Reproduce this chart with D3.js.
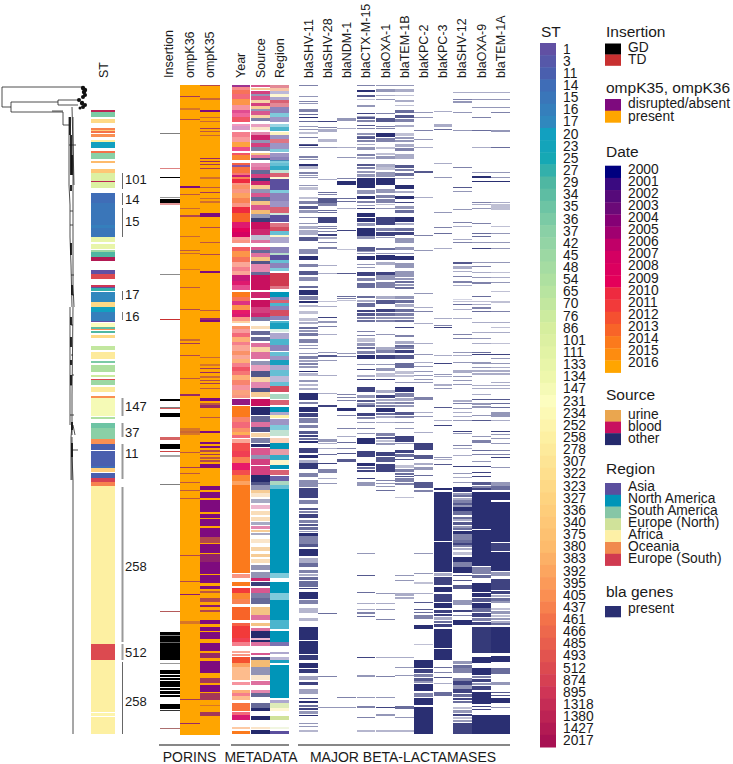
<!DOCTYPE html>
<html><head><meta charset="utf-8"><style>html,body{margin:0;background:#fff}svg{display:block}text{font-family:"Liberation Sans",Arial,sans-serif;fill:#1a1a1a}.heat{filter:blur(.45px)}</style>
<script src="https://cdnjs.cloudflare.com/ajax/libs/d3/7.8.5/d3.min.js"></script></head><body><svg id="c" width="733" height="764"></svg>
<script>
const stCodes=[1,3,11,14,15,16,17,20,23,25,27,29,34,35,36,37,42,45,48,54,65,70,76,86,101,111,133,134,147,231,234,252,258,278,307,322,323,327,336,340,375,380,383,392,395,405,437,461,466,485,493,512,874,895,1318,1380,1427,2017];
const years=d3.range(2000,2017);
const yearColours=["#00007f","#3a0a80","#560a7a","#6b0a78","#850075","#a00070","#c00068","#d40062","#dc005f","#e4005a","#ee2a40","#f23a3a","#f55030","#f86428","#fb7a1c","#fd8c10","#ffa500"];
const sources=["urine","blood","other"];
const sourceColours=["#f0aa50","#c8105f","#252a6c"];
const regions=["Asia","North America","South America","Europe (North)","Africa","Oceania","Europe (South)"];
const regionColours=["#5b4f9e","#0095b8","#86c6a6","#d0e29a","#fdf0a6","#f08a4e","#d03a50"];
const genes=["blaSHV-11","blaSHV-28","blaNDM-1","blaCTX-M-15","blaOXA-1","blaTEM-1B","blaKPC-2","blaKPC-3","blaSHV-12","blaOXA-9","blaTEM-1A"];

const stBands=[[25,27,1380],[27,32,36],[34,38,323],[43,45,437],[45,46,336],[46,48,461],[49,52,405],[55,57,258],[57,63,20],[66,68,461],[68,74,37],[76,78,380],[84,88,340],[88,96,101],[96,97,1380],[97,103,101],[108,118,14],[118,140,15],[140,143,16],[143,152,15],[152,157,133],[159,164,133],[165,167,45],[167,172,29],[172,176,1427],[185,189,1],[189,194,512],[200,202,895],[202,203,1],[203,206,27],[207,217,17],[217,222,323],[222,227,20],[227,236,16],[236,237,1],[238,242,231],[242,244,34],[244,245,405],[246,248,29],[250,253,323],[261,265,70],[267,274,278],[276,278,36],[280,287,54],[290,292,76],[294,295,512],[295,300,45],[302,307,278],[311,313,405],[313,331,147],[332,334,54],[338,343,35],[343,354,37],[354,359,405],[359,365,11],[366,381,11],[381,383,14],[383,387,336],[388,393,11],[393,397,874],[397,401,437],[401,559,258],[559,575,512],[575,627,258],[628,631,252],[632,649,258]];
const stBracketLabels=["101","14","15","17","16","147","37","11","258","512","258"];
const stBracketStarts=[88,108,123,206,227,313,338,359,402,559,577];
const stBracketEnds=[104,120,152,215,235,331,352,394,557,575,649];
const stBracketLabelRows=[99,119,141,214,236,326,352,373,486,572,621];
const stBracketShade=[0.8,0.8,0.8,0.8,0.7,1,1,1,1,0.5,0.9];

const insertionGD=[[48,49,.5],[92,93,1],[112,113,.4],[114,118,1],[189,190,.45],[314,316,1],[322,323,.5],[328,332,1],[359,364,1],[370,372,.35],[399,400,.5],[526,527,.4],[547,550,1],[550,551,.5],[551,557,1],[557,558,.6],[558,575,1],[578,579,.4],[585,589,1],[590,592,1],[593,595,1],[596,602,1],[603,605,1],[606,609,1],[610,612,1],[619,624,1],[625,626,.8],[643,644,.4]];
const insertionTD=[[83,84,.6],[118,120,.5],[234,235,1],[323,324,.8],[352,355,.75],[366,367,.9],[526,527,.6],[643,644,.4]];
const ompK36=[[11,12,.7],[23,25,.3],[34,35,.6],[101,103,1],[109,110,.5],[123,124,.4],[130,132,.6],[151,152,.4],[165,166,.5],[168,169,.4],[184,185,.3],[202,203,.5],[224,225,.6],[254,256,.4],[258,259,.7],[270,271,.6],[293,294,.5],[309,311,.8],[343,346,.3],[346,348,.4],[348,350,.3],[367,368,.5],[382,383,.7],[388,389,.5],[397,398,.5],[405,406,.5],[413,414,.5],[470,471,.6],[496,497,.6],[509,510,.9],[536,539,.3],[614,615,.7],[638,639,.8]];
const ompK35=[[0,1,.6],[13,15,.4],[25,27,1],[32,33,.4],[36,37,.4],[43,44,.7],[46,47,.5],[50,51,.4],[73,74,.8],[76,77,.8],[79,80,.7],[83,84,.7],[92,94,.35],[102,103,.5],[107,108,.7],[113,114,.4],[116,118,.35],[128,132,1],[142,143,.6],[157,158,.5],[169,170,.6],[186,188,1],[225,226,.5],[233,235,.8],[235,237,1],[272,273,.4],[279,281,.3],[283,284,.7],[287,288,.8],[291,293,.4],[295,296,.6],[298,299,.7],[303,304,.5],[313,316,1],[318,320,.5],[320,323,.8],[332,333,.5],[346,348,1],[357,359,1],[361,363,1],[365,367,.6],[369,370,.7],[372,374,.5],[375,377,.6],[379,383,1],[401,405,1],[407,413,1],[415,427,1],[429,433,1],[434,441,1],[443,452,1],[452,458,.6],[459,468,1],[469,477,.85],[477,489,1],[490,498,1],[501,504,1],[506,508,.5],[513,517,.6],[520,522,.9],[525,527,.6],[535,539,1],[542,546,1],[547,554,1],[558,566,1],[568,573,.8],[576,588,1],[593,598,.7],[600,607,1],[608,615,.7],[620,621,.3],[627,631,.7]];

const yearSpans=[[0,2,2004,.8],[2,5,2011,.6],[5,9,2012,.8],[9,14,2010,.7],[14,20,2014,.8],[20,25,2010,.5],[25,28,2007,.7],[28,32,2009,.6],[32,37,2010,.8],[39,41,2008,.4],[41,45,2005,.4],[47,52,2010,.6],[52,57,2011,.5],[57,62,2015,.8],[62,66,2009,.7],[68,70,2010,.8],[70,75,2014,.9],[78,80,2012,.9],[80,82,2002,.7],[82,88,2013,.9],[88,90,2011,.7],[90,92,2006,.9],[92,94,2013,.8],[94,98,2010,1],[98,100,2012,.6],[100,104,2013,.7],[104,108,2012,.6],[108,113,2014,.7],[113,118,2013,.8],[118,122,2012,.6],[122,128,2010,1],[128,137,2013,1],[137,143,2008,.9],[143,147,2009,1],[147,152,2007,1],[152,155,2011,.5],[155,158,2012,.6],[162,166,2011,.8],[166,172,2014,.8],[172,177,2012,.8],[177,182,2012,.5],[182,186,2010,.6],[186,190,2012,.5],[190,196,2006,.9],[196,200,2008,.9],[200,205,2008,.7],[207,212,2014,1],[212,216,2012,.8],[216,220,2007,.8],[220,225,2014,.8],[225,229,2009,.9],[229,232,2007,.9],[232,236,2012,.6],[236,238,2015,.4],[241,244,2013,.7],[244,248,2011,.5],[248,252,2010,.7],[252,257,2014,.6],[257,260,2010,.6],[260,266,2012,.5],[266,270,2013,.7],[270,274,2012,.5],[274,278,2014,.6],[278,282,2010,.6],[282,286,2010,.8],[286,290,2011,.7],[290,295,2014,.6],[295,300,2012,.7],[300,305,2010,.5],[305,310,2013,.6],[310,313,2012,.6],[314,320,2004,.9],[321,332,2014,1],[332,337,2012,.7],[337,343,2010,.7],[343,347,2013,.7],[347,350,2015,.7],[350,353,2010,.7],[354,358,2012,.5],[358,366,2011,.9],[366,372,2010,.9],[372,378,2013,.8],[378,385,2009,.9],[385,390,2011,.9],[390,396,2014,.9],[396,400,2014,.7],[400,488,2014,1],[489,493,2012,.6],[497,501,2014,1],[503,508,2011,1],[508,514,2014,.9],[514,519,2013,.8],[522,535,2013,1],[538,541,2012,.9],[541,553,2011,1],[553,557,2010,.9],[557,561,2010,.6],[566,568,2012,.5],[569,571,2012,.6],[572,578,2012,1],[578,582,2014,.7],[582,595,2014,.5],[597,600,2010,.5],[605,608,2014,.6],[608,611,2010,.6],[611,615,2014,.5],[618,626,2013,.9],[627,630,2010,.7],[630,635,2007,.9],[642,644,2014,.4],[646,649,2014,1]];
const sourceSpans=[[0,2,1,.7],[3,5,0,.6],[6,9,1,.8],[9,11,2,.5],[11,15,1,.7],[15,18,0,.5],[18,21,1,.8],[21,24,0,.6],[24,26,2,.5],[26,30,1,.7],[30,33,0,.5],[33,36,2,.6],[39,42,1,.4],[42,45,0,.3],[47,50,1,.5],[50,55,1,.9],[55,58,2,.5],[58,62,1,.8],[62,66,2,.6],[68,70,0,.7],[70,73,1,.6],[73,75,2,.8],[78,82,1,.5],[82,85,1,.6],[85,89,2,.7],[89,93,1,.8],[93,96,2,.9],[96,100,1,.9],[100,104,0,.6],[104,108,2,.5],[108,112,1,.7],[112,116,2,.7],[116,120,0,.7],[120,125,1,.7],[125,129,0,.8],[129,133,2,.5],[133,137,2,.9],[137,144,1,1],[144,150,1,.9],[150,155,2,.3],[155,158,1,.6],[162,165,1,.7],[165,168,2,.7],[168,172,1,.6],[172,176,0,.7],[176,179,2,.8],[179,183,1,.5],[183,187,1,.5],[187,190,2,.7],[190,205,1,1],[207,213,1,.9],[215,222,1,1],[222,228,1,.8],[228,232,1,.9],[232,236,2,.6],[241,244,0,.4],[246,250,2,.7],[252,256,2,.7],[258,262,1,.6],[262,267,0,.5],[267,274,1,.6],[276,280,2,.5],[280,286,1,.4],[286,292,2,.8],[292,297,0,.5],[297,303,1,.5],[303,307,2,.8],[307,312,0,.6],[314,321,1,1],[322,330,2,1],[331,337,2,.7],[337,342,1,.6],[342,347,2,.8],[348,352,0,.5],[353,358,2,.6],[359,362,2,1],[363,370,1,.7],[370,374,2,.5],[374,380,1,.8],[381,390,1,.8],[390,397,2,1],[397,400,2,.8],[400,405,2,.5],[405,408,0,.6],[408,412,0,.3],[414,418,2,.4],[420,424,1,.3],[426,430,0,.4],[432,436,0,.4],[437,440,2,.4],[441,444,1,.5],[445,447,0,.6],[448,450,2,.4],[454,458,0,.3],[462,466,0,.5],[469,472,0,.6],[474,478,0,.4],[480,485,2,.5],[487,493,2,.5],[493,496,1,.9],[497,501,2,.9],[503,508,1,.7],[508,513,2,.6],[513,519,2,.7],[522,530,0,.7],[530,535,1,.6],[538,541,0,.7],[543,546,1,.6],[546,553,2,1],[553,555,1,.3],[555,557,2,1],[557,561,1,.6],[568,570,1,.7],[572,575,2,.8],[575,582,0,.8],[582,590,2,.5],[590,595,0,.3],[596,600,1,.6],[605,608,1,.5],[608,612,2,.7],[618,623,2,.7],[623,626,2,1],[631,635,2,1],[642,644,0,.3],[645,649,2,1]];
const regionSpans=[[0,3,6,.6],[3,6,5,.5],[6,9,0,.4],[9,12,4,.5],[12,15,0,.5],[15,18,6,.8],[18,22,6,.6],[22,28,0,.7],[28,32,1,.5],[32,37,0,.6],[39,42,1,.4],[42,46,1,.7],[47,50,4,.7],[50,54,0,.6],[54,58,6,.7],[58,64,0,.6],[64,67,1,.5],[68,72,0,.6],[72,76,0,.7],[75,78,1,.5],[78,81,1,.6],[81,85,1,.8],[85,88,2,.5],[88,92,6,.8],[92,94,4,.5],[94,105,0,1],[105,108,1,.5],[108,116,0,.7],[116,122,0,.6],[122,128,6,.8],[128,130,2,.4],[130,137,0,1],[138,142,6,.7],[142,146,6,.9],[146,150,1,.6],[150,152,4,.6],[152,158,0,.5],[162,168,0,.7],[168,170,2,.6],[170,175,0,1],[175,178,1,.6],[178,183,0,.7],[183,186,1,.5],[188,201,6,1],[201,204,6,.7],[207,212,1,1],[212,215,0,.7],[215,218,6,.8],[218,221,1,.7],[221,225,0,.7],[225,231,6,.9],[231,235,0,.7],[236,238,1,.7],[238,244,1,.9],[244,247,2,.3],[248,254,0,.5],[254,260,1,.7],[260,266,0,.7],[267,271,1,.6],[271,275,0,.6],[275,280,1,.9],[280,285,0,.5],[285,291,1,.6],[291,297,0,.4],[297,301,1,.6],[301,307,6,.9],[309,314,2,.7],[315,320,6,.8],[322,327,1,1],[327,330,0,.5],[330,333,4,1],[334,340,0,.6],[340,345,1,.5],[345,351,2,.5],[353,358,5,.4],[358,364,1,1],[364,370,6,.5],[370,375,1,.8],[375,380,4,.6],[380,384,1,1],[385,390,6,.8],[391,396,0,.9],[396,400,2,.7],[400,404,1,.6],[404,488,1,1],[488,493,1,.5],[497,508,1,1],[508,515,1,.5],[515,535,1,1],[535,544,1,.7],[546,557,1,1],[557,561,0,.8],[567,569,0,.5],[572,575,0,.4],[575,578,1,.9],[580,613,1,1],[615,618,0,.5],[618,623,3,.7],[623,626,4,.5],[631,635,3,1],[642,644,3,.3],[646,649,0,1]];

const blaSHV11=[[0,1,.6],[11,12,.5],[16,17,.6],[18,19,.5],[24,27,.6],[29,30,.7],[32,33,1],[36,37,.7],[41,42,.5],[44,45,.5],[47,49,.3],[52,53,.6],[59,60,.8],[60,61,1],[62,63,.5],[71,73,.6],[74,75,.5],[79,81,1],[81,84,.35],[87,89,.6],[90,91,.5],[92,93,.5],[100,101,.5],[102,105,.3],[112,114,.3],[116,119,.6],[121,124,.8],[125,128,.5],[132,133,.6],[138,139,.5],[141,144,.4],[145,150,.4],[152,156,.8],[164,169,.55],[171,175,1],[179,182,.6],[186,190,.8],[192,196,.55],[201,203,.7],[205,210,1],[211,215,.6],[216,218,1],[220,222,.35],[226,229,.3],[233,236,.3],[237,239,.4],[242,244,.7],[245,247,.5],[248,251,.65],[254,258,.6],[260,261,.5],[263,264,.5],[268,269,.5],[271,274,.6],[275,277,.45],[278,280,.6],[281,283,.5],[286,287,1],[288,291,.35],[295,297,.5],[299,301,.35],[303,305,.4],[308,315,1],[317,319,.6],[322,327,1],[328,332,.9],[333,338,.6],[340,343,.6],[346,349,.8],[350,352,.9],[353,355,.7],[356,358,1],[363,368,.9],[370,373,1],[375,378,.4],[378,384,.95],[388,392,.6],[395,402,.55],[403,413,.9],[415,419,.6],[423,425,.8],[426,428,.6],[429,433,.9],[435,438,.6],[439,441,.8],[442,445,.7],[446,447,.5],[448,451,1],[451,455,.6],[455,459,.6],[459,462,.8],[464,471,1],[473,478,.4],[478,482,.7],[485,488,.6],[489,491,.4],[492,495,.7],[496,502,.7],[503,504,.9],[507,514,1],[515,519,.6],[523,528,.35],[533,536,.35],[542,555,1],[556,569,1],[570,575,.95],[578,583,1],[584,588,.95],[591,595,.45],[597,600,.9],[604,609,.45],[613,614,.8],[616,618,1],[620,622,.7],[623,625,.9],[626,629,.5],[630,631,1],[638,639,.5],[641,642,.5],[645,647,.35]];
const blaSHV28=[[36,37,.9],[42,43,.6],[44,47,.4],[54,57,.35],[62,63,.5],[94,95,.4],[107,108,.7],[109,110,.6],[113,118,.8],[118,121,.6],[125,126,.7],[127,128,.7],[132,138,.9],[141,142,.6],[143,144,.6],[146,147,.6],[149,151,.9],[152,154,.4],[157,158,.6],[162,164,.6],[180,181,.4],[188,189,.4],[216,217,.3],[221,222,.4],[232,233,.9],[236,238,.5],[241,242,.6],[249,250,.4],[267,268,.5],[270,272,.8],[275,276,.5],[290,291,.4],[308,309,.4],[320,322,.9],[354,357,.5],[358,359,.4],[363,364,.4],[369,370,.7],[378,379,.9],[384,388,.6],[393,394,.4],[398,399,.5],[528,529,.7],[591,592,.6],[622,623,.5]];
const blaNDM1=[[33,36,.5],[43,44,.4],[62,63,.4],[72,73,.5],[93,94,.6],[96,100,1],[113,114,.7],[116,117,.7],[123,124,.4],[145,146,.9],[164,165,.3],[188,189,.8],[211,212,.7],[213,214,.6],[215,216,.3],[268,269,.5],[271,272,.6],[309,310,.6],[312,313,.6],[315,316,.6],[323,326,1],[330,331,.6],[343,344,.6],[351,352,.4],[357,358,.7],[363,364,.6],[368,369,.8],[374,377,.8],[612,613,.6],[622,623,.5]];
const blaCTXM15=[[0,1,.6],[5,7,1],[10,12,.8],[14,15,.3],[20,22,.5],[28,29,.9],[31,32,.4],[32,34,.8],[35,37,.6],[40,41,.8],[43,44,.6],[48,50,.5],[51,52,.7],[52,54,.8],[55,57,.6],[59,60,.4],[62,65,.5],[69,71,.6],[72,74,.4],[79,81,.8],[82,84,.6],[86,88,.5],[89,92,.5],[93,103,1],[105,109,.5],[111,114,1],[116,118,.6],[120,121,.5],[123,124,.9],[128,132,1],[133,137,1],[138,141,.5],[143,151,1],[151,154,.5],[162,166,.8],[166,167,.5],[168,169,.5],[171,175,1],[179,180,.5],[182,183,.5],[187,191,.9],[193,196,.6],[198,203,.7],[211,213,.7],[215,217,.4],[218,222,.7],[225,227,.9],[228,231,.8],[232,234,.6],[235,237,.7],[246,247,.6],[250,251,.6],[253,257,.3],[258,261,.5],[262,264,.7],[266,269,.6],[270,274,1],[279,280,.5],[284,285,.9],[290,292,.4],[294,295,.9],[302,307,.9],[310,313,.5],[315,317,.8],[318,320,.5],[320,322,.8],[328,331,.9],[332,334,.6],[337,338,.5],[343,344,.6],[348,349,.5],[353,359,1],[366,372,.9],[378,381,1],[382,384,.7],[385,387,.9],[393,394,.9],[397,401,.5],[468,469,.5],[490,491,.8],[507,508,.7],[518,519,.4],[524,525,.4],[527,529,.6],[531,532,.7],[572,573,.9],[590,592,.5],[612,613,.5],[621,623,.6],[632,633,.6],[645,647,.35]];
const blaOXA1=[[0,1,.5],[4,7,.5],[10,11,.4],[14,15,.5],[28,29,.6],[33,37,.8],[41,42,.6],[43,44,.6],[48,52,1],[53,57,.6],[62,64,.3],[68,70,.3],[71,74,.5],[79,82,.4],[82,85,.3],[87,92,.5],[93,100,1],[104,108,.5],[110,113,.6],[114,118,.6],[119,120,.3],[123,124,.5],[132,140,.9],[143,146,.6],[147,151,.9],[152,153,.5],[163,165,.7],[168,169,.5],[170,175,1],[177,180,.4],[187,190,.9],[190,192,.5],[192,195,.5],[197,203,.6],[211,214,.4],[215,219,.8],[224,227,.9],[228,231,.7],[232,234,.5],[235,237,.6],[249,250,.5],[262,265,.4],[265,268,.6],[270,274,.9],[279,280,.5],[283,286,.5],[288,292,.3],[294,295,.9],[305,308,.4],[310,313,.9],[314,316,.4],[317,319,.5],[320,322,.6],[323,327,1],[328,330,.7],[331,333,.4],[337,338,.4],[348,351,.6],[352,354,.8],[355,357,.3],[358,360,.5],[367,371,.9],[372,377,.8],[379,387,.9],[395,396,.6],[398,399,.5],[401,402,.5],[405,406,.7],[508,509,.5],[518,519,.4],[524,525,.5],[534,535,.6],[572,573,.4],[591,592,.6],[612,613,.5],[622,623,.9],[629,631,.5],[645,647,.35]];
const blaTEM1B=[[0,1,.5],[4,7,.4],[10,11,.3],[15,17,.4],[20,21,.3],[25,28,.7],[30,33,.8],[34,37,.6],[40,42,.4],[48,51,.3],[52,54,.5],[55,57,.5],[59,62,.4],[63,66,.6],[69,74,.4],[80,83,.8],[84,86,.6],[88,91,.7],[93,94,.4],[100,104,1],[106,108,.4],[111,114,1],[117,118,.9],[121,124,.5],[125,128,.7],[132,137,1],[138,140,.4],[143,146,.7],[147,150,.9],[153,158,.5],[162,165,.5],[168,169,.5],[171,175,1],[178,183,.5],[186,192,.5],[193,195,.5],[196,198,.7],[199,201,.5],[202,204,.7],[211,214,.5],[215,218,.7],[219,222,.4],[224,227,.7],[228,231,.6],[232,234,.5],[235,237,.7],[242,243,.9],[250,252,.6],[256,259,.4],[260,262,.7],[262,264,.6],[265,268,.9],[270,274,.8],[278,283,.7],[286,289,.3],[290,292,.3],[297,298,.5],[302,307,1],[308,312,.6],[313,316,.4],[317,319,.6],[320,322,.5],[327,330,.8],[331,333,.6],[337,338,.5],[343,344,.5],[351,357,.9],[358,359,.5],[365,368,.9],[369,372,.7],[374,375,.8],[380,383,.3],[384,387,.6],[388,390,.7],[391,392,.8],[393,397,.6],[398,400,.6],[412,413,.3],[490,491,.5],[495,496,.5],[508,511,.4],[512,514,.4],[572,573,.4],[582,583,.5],[590,591,.5],[621,624,.7],[632,633,.5],[645,647,.35]];
const blaKPC2=[[27,28,.5],[32,33,.5],[45,46,.6],[54,55,.5],[62,63,.4],[86,88,.8],[112,113,.4],[150,151,.6],[165,166,.5],[208,209,.5],[222,223,.4],[226,227,.6],[238,239,.4],[258,259,.4],[269,270,.5],[277,278,.4],[281,282,.5],[286,287,.5],[290,291,.5],[294,295,.5],[297,298,.5],[312,315,.6],[327,328,.4],[331,332,.5],[347,348,.4],[358,365,.9],[370,374,.8],[378,380,.4],[382,385,.5],[390,391,.7],[397,403,.8],[405,407,.6],[468,469,.5],[488,489,.5],[497,499,.3],[508,509,.4],[517,518,.8],[524,525,.8],[527,528,.7],[530,534,.6],[540,544,1],[559,560,.3],[575,583,1],[584,588,.9],[589,592,.6],[593,596,.8],[596,598,.5],[599,606,1],[608,612,.6],[613,620,1],[622,649,1]];
const blaKPC3=[[26,27,.4],[39,42,.4],[44,45,.7],[78,79,.4],[92,93,.5],[127,128,.5],[142,143,.6],[148,149,.7],[163,164,.4],[233,234,.4],[240,241,.6],[242,243,.9],[270,271,.4],[278,279,.9],[289,290,.5],[291,292,.4],[299,301,.4],[303,304,.5],[322,323,.8],[335,336,.4],[340,341,.9],[372,373,.5],[374,375,.4],[379,380,.8],[403,405,1],[407,456,1],[457,487,1],[488,491,.4],[492,500,.9],[502,507,1],[509,517,.9],[518,523,1],[525,528,.9],[529,531,.9],[532,535,.4],[536,538,.7],[539,542,.9],[544,563,1],[564,575,1],[582,583,.7],[587,588,.6],[592,593,.8],[598,599,.4],[607,611,.7]];
const blaSHV12=[[7,8,.4],[14,15,.6],[16,18,.5],[27,28,.5],[45,46,.5],[82,83,.6],[102,103,.8],[106,107,.5],[124,125,.5],[137,138,.6],[141,142,.4],[154,155,.4],[157,158,.6],[177,179,.8],[181,184,.4],[186,187,.4],[191,192,.6],[196,198,.6],[200,201,.4],[214,215,.2],[216,217,.3],[219,220,.7],[224,225,.4],[233,234,.4],[249,250,.6],[253,254,.6],[267,268,.5],[270,271,.4],[277,278,.5],[285,288,.4],[291,292,.5],[295,296,.5],[299,300,.5],[315,317,.4],[318,319,.6],[323,324,.5],[327,328,.4],[331,332,.4],[335,336,.5],[346,347,.9],[348,349,.5],[360,361,.6],[363,364,.4],[370,371,.4],[381,382,.9],[388,389,.5],[392,393,.4],[397,398,.5],[402,407,1],[408,410,.5],[410,412,.7],[413,415,.4],[415,418,.6],[418,420,.8],[420,422,.5],[422,426,1],[426,430,.7],[432,434,.7],[434,436,.4],[437,440,.8],[441,443,.5],[443,445,.7],[446,449,1],[449,455,.6],[455,458,.7],[458,460,.9],[460,462,.6],[463,465,.4],[467,470,.3],[472,477,1],[477,482,.6],[482,488,1],[490,491,.8],[495,496,.8],[500,504,.8],[515,520,.5],[525,527,.9],[530,531,.6],[535,540,1],[576,579,.5],[580,583,.7],[583,588,.6],[593,596,.6],[596,600,.9],[600,604,.5],[604,608,.9],[609,612,.7],[613,615,.9],[616,618,.7],[622,624,.3],[625,628,.5],[629,631,.9],[632,634,.3],[635,637,.5],[638,649,.9]];
const blaOXA9=[[7,8,.4],[14,15,.5],[22,23,.5],[32,33,.6],[45,46,.7],[62,63,.4],[87,88,.5],[91,93,1],[96,97,1],[117,118,.6],[119,120,.4],[123,124,.5],[138,139,.6],[148,149,.7],[151,152,.7],[157,158,.5],[163,164,.9],[177,178,.5],[181,182,.6],[187,188,.4],[192,193,.5],[197,199,.6],[211,212,.7],[216,217,.3],[219,220,.4],[222,224,.6],[226,227,.7],[237,238,.4],[247,248,.4],[253,254,.5],[258,259,.4],[267,268,.7],[269,270,.9],[277,279,.5],[282,283,.5],[285,287,.4],[288,290,.4],[300,301,.4],[303,304,.4],[309,310,.4],[314,315,.8],[318,320,.5],[321,323,.5],[330,331,.5],[335,336,.8],[351,352,.5],[355,358,.6],[365,366,.7],[369,370,.6],[376,377,.5],[381,382,.9],[387,388,.9],[391,392,.9],[397,400,.8],[401,403,.6],[403,405,.9],[407,444,1],[445,481,1],[482,489,.6],[490,493,.7],[498,507,1],[508,512,1],[513,517,.8],[518,523,1],[523,527,.7],[528,532,.9],[533,536,.6],[537,540,.9],[542,568,.95],[572,578,1],[583,590,1],[591,593,.6],[594,597,.9],[598,600,.5],[601,605,.9],[607,619,1],[621,622,.9],[624,625,.9],[630,649,1]];
const blaTEM1A=[[7,8,.4],[14,15,.5],[22,23,.5],[27,28,.6],[45,47,.5],[62,63,.7],[87,88,.5],[92,93,.5],[96,97,1],[117,118,.4],[119,125,.3],[141,142,.3],[148,149,.5],[157,158,.5],[163,164,.5],[177,178,.5],[187,188,.3],[192,193,.4],[197,198,.5],[206,207,.3],[216,218,.3],[226,227,.6],[237,238,.4],[242,243,.3],[247,248,.4],[258,259,.3],[269,270,.9],[273,274,.5],[278,279,.5],[282,283,.4],[285,287,.4],[288,290,.4],[297,298,.4],[300,301,.4],[303,304,.4],[314,315,.8],[318,319,.7],[322,323,.7],[327,332,.5],[335,336,.4],[346,347,.9],[349,350,.5],[353,354,.5],[358,359,.5],[365,366,.6],[369,370,.6],[372,373,.9],[382,383,.5],[397,401,.5],[401,405,.7],[407,415,1],[417,457,1],[458,466,.9],[467,486,1],[487,491,.5],[494,505,.9],[506,509,.9],[510,512,.4],[513,516,.7],[516,518,.5],[523,525,.3],[526,529,.5],[530,532,.3],[533,535,.5],[536,538,.4],[538,540,.7],[542,568,1],[571,577,1],[583,589,.7],[597,600,.5],[607,608,.8],[610,611,.8],[613,618,1],[622,623,.5],[630,649,1]];
const geneSpans=[blaSHV11,blaSHV28,blaNDM1,blaCTXM15,blaOXA1,blaTEM1B,blaKPC2,blaKPC3,blaSHV12,blaOXA9,blaTEM1A];

const treeEdges=[[2,2,2,22],[2,2,82,2],[2,22,11,22],[11,17,11,27],[11,17,58,17],[58,15,58,20],[58,15,80,15],[58,20,78,20],[11,27,63,27],[63,27,63,40],[52,26,63,26],[63,40,69,40],[69,32,69,100],[73,32,73,100],[69,100,70,120],[73,100,73,152],[70,120,70,152],[70,152,71,180],[73,152,73,200],[71,180,72,222],[73,200,74,222],[70,222,70,340],[73,222,72,310],[72,310,72,350],[72,340,71,352],[73,340,75,350],[71,352,71,395],[72,352,72,395],[72,365,78,365],[73,395,73,649],[73,395,72,370],[69,60,76,60],[72,22,74,100],[70,140,73,140],[70,126,73,126],[71,190,74,190],[72,210,74,210],[72,290,74,290],[71,270,73,270],[71,240,73,240],[70,300,72,300],[70,330,74,330]];
const treeDarkRuns=[[70,32,50],[71,50,90],[72,70,90],[71,100,106],[71,158,170],[72,200,210],[71,232,240],[71,252,262],[71,275,280],[71,290,300],[72,337,345],[72,358,372]];
const treeTips=[[83,3,2.2],[85,5,2.2],[84,7,2.2],[85,10,2],[83,12,2],[79,15,2],[82,18,2.2],[85,20,2],[83,22,2],[80,23,1.5]];

const svg=d3.select("#c");
const heat=svg.append("g").attr("class","heat");
const y=d3.scaleLinear().domain([0,650]).range([85,735]);
const treeX=d3.scaleLinear().domain([0,100]).range([0,100]);
const stColour=d3.scaleLinear().domain([0,2,3,6,7,9,11,15,19,23,27,29,32,37,41,45,47,51,53,57]).range(["#6150a3","#4a5fae","#3f6db7","#3088be","#12a0c0","#16a8b4","#4fb7a2","#8ad0a6","#aee0a0","#d6ee9e","#eef7ac","#fcfdbf","#fdf0a2","#fed37f","#fdbb6c","#fa8f52","#f3724a","#dc4a50","#cf3556","#a81152"]);
const stFill=c=>stColour(stCodes.indexOf(c));
const yearFill=d3.scaleOrdinal(years,yearColours), srcFill=d3.scaleOrdinal(d3.range(3),sourceColours), regFill=d3.scaleOrdinal(d3.range(7),regionColours);
const blaColour="#2a2f72";

const xSt=d3.scaleBand().domain(["ST"]).range([91,115]);
const xPor=d3.scaleBand().domain(["Insertion","ompK36","ompK35"]).range([160,220]).paddingInner(.01);
const xMeta=d3.scaleBand().domain(["Year","Source","Region"]).range([231.7,289]).paddingInner(.03);
const xGene=d3.scaleBand().domain(genes).range([299,510]).paddingInner(.025);

function column(x,w,spans,colour,share){
  heat.append("g").selectAll("rect").data(spans).join("rect")
    .attr("x",x).attr("width",w).attr("y",d=>y(d[0])).attr("height",d=>Math.max(y(d[1])-y(d[0]),0))
    .attr("fill",colour).attr("fill-opacity",share).attr("shape-rendering","crispEdges");
}
svg.append("g").attr("stroke","#222").attr("stroke-width",.8).attr("fill","none").selectAll("line").data(treeEdges).join("line")
  .attr("x1",d=>treeX(d[0])).attr("y1",d=>y(d[1])).attr("x2",d=>treeX(d[2])).attr("y2",d=>y(d[3]));
svg.append("g").attr("stroke","#111").attr("stroke-width",1.8).selectAll("line").data(treeDarkRuns).join("line")
  .attr("x1",d=>treeX(d[0])).attr("x2",d=>treeX(d[0])).attr("y1",d=>y(d[1])).attr("y2",d=>y(d[2]));
svg.append("g").attr("fill","#111").selectAll("circle").data(treeTips).join("circle")
  .attr("cx",d=>treeX(d[0])).attr("cy",d=>y(d[1])).attr("r",d=>d[2]);
column(xSt("ST"),xSt.bandwidth(),stBands,d=>stFill(d[2]),1);
svg.append("g").selectAll("line").data(stBracketLabels).join("line")
  .attr("x1",122.5).attr("x2",122.5).attr("y1",(d,i)=>y(stBracketStarts[i])).attr("y2",(d,i)=>y(stBracketEnds[i]))
  .attr("stroke",(d,i)=>[5,6,7,8].includes(i)?"#999":(i==10?"#555":"#444")).attr("stroke-width",(d,i)=>[5,6,7,8,9].includes(i)?2:1).attr("stroke-opacity",(d,i)=>stBracketShade[i]);
svg.append("g").selectAll("text").data(stBracketLabels).join("text")
  .attr("x",125).attr("y",(d,i)=>y(stBracketLabelRows[i])).attr("font-size",13).text(d=>d);
column(xPor("Insertion"),xPor.bandwidth(),insertionGD,"#000",d=>d[2]);
column(xPor("Insertion"),xPor.bandwidth(),insertionTD,"#c83030",d=>d[2]);
["ompK36","ompK35"].forEach((k,i)=>{
  column(xPor(k),xPor.bandwidth(),[[0,650,1]],"#ffa500",1);
  column(xPor(k),xPor.bandwidth(),i?ompK35:ompK36,"#7e0a7e",d=>d[2]);
});
column(xMeta("Year"),xMeta.bandwidth(),yearSpans,d=>yearFill(d[2]),d=>d[3]);
column(xMeta("Source"),xMeta.bandwidth(),sourceSpans,d=>srcFill(d[2]),d=>d[3]);
column(xMeta("Region"),xMeta.bandwidth(),regionSpans,d=>regFill(d[2]),d=>d[3]);
genes.forEach((g,i)=>column(xGene(g),xGene.bandwidth(),geneSpans[i],blaColour,d=>d[2]));
const heads=[["ST",108],...xPor.domain().map(k=>[k,xPor(k)+xPor.bandwidth()/2+3.5]),...xMeta.domain().map(k=>[k,xMeta(k)+xMeta.bandwidth()/2+4.3]),...genes.map(k=>[k,xGene(k)+xGene.bandwidth()/2+4.3])];
svg.append("g").selectAll("text").data(heads).join("text")
  .attr("transform",d=>`translate(${d[1]},78) rotate(-90)`).attr("font-size",12.5).text(d=>d[0]);
const groups=[["PORINS",159,220],["METADATA",231,289],["MAJOR BETA-LACTAMASES",298,510]];
svg.append("g").selectAll("line").data(groups).join("line").attr("x1",d=>d[1]).attr("x2",d=>d[2]).attr("y1",745).attr("y2",745).attr("stroke","#111").attr("stroke-width",1.2);
svg.append("g").selectAll("text").data(groups).join("text").attr("x",(d,i)=>[189.5,261,403][i]).attr("y",762).attr("text-anchor","middle").attr("font-size",14).text(d=>d[0]);
const stBar=d3.scaleBand().domain(stCodes).range([43,747]);
svg.append("g").selectAll("rect").data(stCodes).join("rect").attr("x",540).attr("width",16).attr("y",d=>stBar(d)).attr("height",stBar.bandwidth()+.5).attr("fill",d=>stFill(d));
svg.append("g").selectAll("text").data(stCodes).join("text").attr("x",563).attr("y",d=>stBar(d)+stBar.bandwidth()/2+4.5).attr("font-size",13.8).text(d=>d);
svg.append("text").attr("x",541).attr("y",37).attr("font-size",15.5).text("ST");
function legend(title,titleY,labels,fills,top,step,firstBase,baseStep){
  svg.append("text").attr("x",606).attr("y",titleY).attr("font-size",15.5).text(title);
  const s=d3.scaleBand().domain(labels).range([top,top+step*labels.length]);
  svg.append("g").selectAll("rect").data(labels).join("rect").attr("x",605).attr("width",16).attr("y",d=>s(d)).attr("height",step+.3).attr("fill",(d,i)=>fills[i]);
  svg.append("g").selectAll("text").data(labels).join("text").attr("x",628).attr("y",(d,i)=>firstBase+i*baseStep).attr("font-size",13.8).text(d=>d);
}
legend("Insertion",37,["GD","TD"],["#000","#c83030"],43.5,11,52.3,11.7);
legend("ompK35, ompK36",93,["disrupted/absent","present"],["#7e0a7e","#ffa500"],99,11.7,107.5,13);
legend("Date",157,years.map(String),yearColours,165.7,12.17,174,12.06);
legend("Source",400,sources,["#eaa64f","#c8105f","#252a6c"],410,11.6,419,12);
legend("Region",474,regions,regionColours,483,11.8,491,12);
legend("bla genes",597,["present"],[blaColour],606,11,613,12);
</script></body></html>
